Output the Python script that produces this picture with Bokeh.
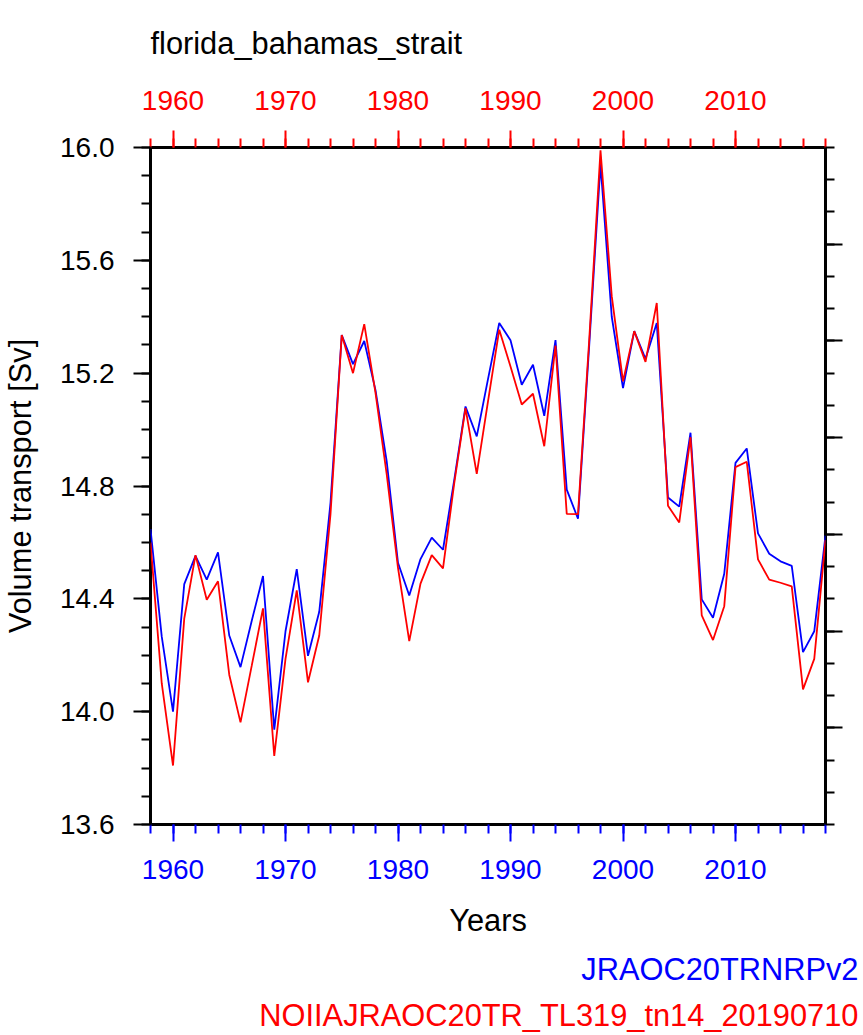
import math
from bokeh.plotting import figure
from bokeh.models import Range1d, LinearAxis, FixedTicker, PrintfTickFormatter, Title
from bokeh.embed import file_html
from bokeh.resources import INLINE

# ---------------- data ----------------
years = list(range(1958, 2019))

jraoc20trnrpv2 = [
    14.647, 14.266, 14.000, 14.452, 14.552, 14.468, 14.565, 14.270, 14.158, 14.322,
    14.481, 13.936, 14.285, 14.505, 14.198, 14.354, 14.740, 15.335, 15.232, 15.314,
    15.140, 14.886, 14.528, 14.412, 14.541, 14.617, 14.574, 14.822, 15.082, 14.976,
    15.179, 15.378, 15.317, 15.159, 15.230, 15.049, 15.317, 14.787, 14.684, 15.300,
    15.941, 15.400, 15.147, 15.349, 15.251, 15.378, 14.759, 14.727, 14.989, 14.398,
    14.333, 14.489, 14.882, 14.933, 14.632, 14.560, 14.533, 14.517, 14.211, 14.285,
    14.624,
]

noiiajraoc20tr = [
    14.600, 14.100, 13.809, 14.330, 14.555, 14.397, 14.462, 14.131, 13.962, 14.163,
    14.366, 13.843, 14.187, 14.430, 14.104, 14.270, 14.700, 15.335, 15.200, 15.374,
    15.130, 14.840, 14.510, 14.250, 14.454, 14.555, 14.508, 14.810, 15.076, 14.843,
    15.100, 15.354, 15.224, 15.089, 15.127, 14.941, 15.298, 14.701, 14.700, 15.320,
    15.990, 15.473, 15.171, 15.349, 15.240, 15.449, 14.730, 14.671, 14.973, 14.341,
    14.254, 14.374, 14.867, 14.886, 14.540, 14.468, 14.457, 14.444, 14.079, 14.187,
    14.608,
]

series_names = ["JRAOC20TRNRPv2", "NOIIAJRAOC20TR_TL319_tn14_20190710"]
series_colors = ["#0000ff", "#ff0000"]

x_major_ticks = [1960, 1970, 1980, 1990, 2000, 2010]
x_minor_ticks = list(range(1958, 2019, 2))
y_major_ticks = [13.6, 14.0, 14.4, 14.8, 15.2, 15.6, 16.0]
y_minor_ticks = [round(13.6 + 0.1 * i, 1) for i in range(25)]
right_major_ticks = [3, 6, 9, 12, 15, 18]
right_minor_ticks = list(range(0, 22))

title_text = "florida_bahamas_strait"
x_label = "Years"
y_label = "Volume transport [Sv]"

# ---------------- figure ----------------
FONT = "Liberation Sans"
TXT = "30.8px"
W, H = 863, 1035
L, R, T, B = 149, 38, 147, 211

p = figure(width=W, height=H, x_range=Range1d(1958, 2018), y_range=Range1d(13.6, 16.0),
           output_backend="svg", toolbar_location=None,
           min_border_left=L, min_border_right=R, min_border_top=T, min_border_bottom=B)
p.grid.visible = False
p.background_fill_color = "white"
p.border_fill_color = "white"
p.outline_line_color = "black"
p.outline_line_width = 3
p.outline_line_alpha = 1.0

p.extra_y_ranges = {"r": Range1d(0, 21)}


def style_axis(ax, color, standoff=10):
    ax.axis_line_color = None
    ax.major_tick_line_color = color
    ax.minor_tick_line_color = color
    ax.major_tick_line_width = 2
    ax.minor_tick_line_width = 2
    ax.major_tick_out = 17
    ax.major_tick_in = 0
    ax.minor_tick_out = 9
    ax.minor_tick_in = 0
    ax.major_label_text_font = FONT
    ax.major_label_text_color = color
    ax.major_label_text_font_size = "28px"
    ax.major_label_standoff = standoff
    ax.axis_label_text_font = FONT
    ax.axis_label_text_font_size = TXT
    ax.axis_label_text_font_style = "normal"
    ax.axis_label_text_color = "black"


xb = p.xaxis[0]
xb.ticker = FixedTicker(ticks=x_major_ticks, minor_ticks=x_minor_ticks)
xb.formatter = PrintfTickFormatter(format="%d")
style_axis(xb, series_colors[0], standoff=18)
xb.axis_label = x_label
xb.axis_label_standoff = 21

yl = p.yaxis[0]
yl.ticker = FixedTicker(ticks=y_major_ticks, minor_ticks=y_minor_ticks)
yl.formatter = PrintfTickFormatter(format="%.1f")
style_axis(yl, "black", standoff=19)
yl.axis_label = y_label
yl.axis_label_standoff = 19

xt = LinearAxis(ticker=FixedTicker(ticks=x_major_ticks, minor_ticks=x_minor_ticks),
                formatter=PrintfTickFormatter(format="%d"))
style_axis(xt, series_colors[1], standoff=21)
p.add_layout(xt, "above")

p.title.text = title_text
p.title.align = "left"
p.title.vertical_align = "top"
p.title.text_font = FONT
p.title.text_font_size = TXT
p.title.text_font_style = "normal"
p.title.text_color = "black"
p.title.standoff = 50
p.title.offset = 0

yr = LinearAxis(y_range_name="r",
                ticker=FixedTicker(ticks=right_major_ticks, minor_ticks=right_minor_ticks),
                major_label_overrides={t: "" for t in right_major_ticks})
style_axis(yr, "black", standoff=0)
p.add_layout(yr, "right")

# ---------------- lines ----------------
p.line(years, jraoc20trnrpv2, line_color=series_colors[0], line_width=1.8)
p.line(years, noiiajraoc20tr, line_color=series_colors[1], line_width=1.8)

# ---------------- legend texts ----------------
t_blue = Title(text=series_names[0], align="right", offset=-33, standoff=19,
               text_font=FONT, text_font_size=TXT, text_font_style="normal",
               text_color=series_colors[0])
t_red = Title(text=series_names[1], align="right", offset=-33, standoff=-2,
              text_font=FONT, text_font_size=TXT, text_font_style="normal",
              text_color=series_colors[1])
p.add_layout(t_blue, "below")
p.add_layout(t_red, "below")

open("out.html", "w").write(file_html(p, INLINE))
